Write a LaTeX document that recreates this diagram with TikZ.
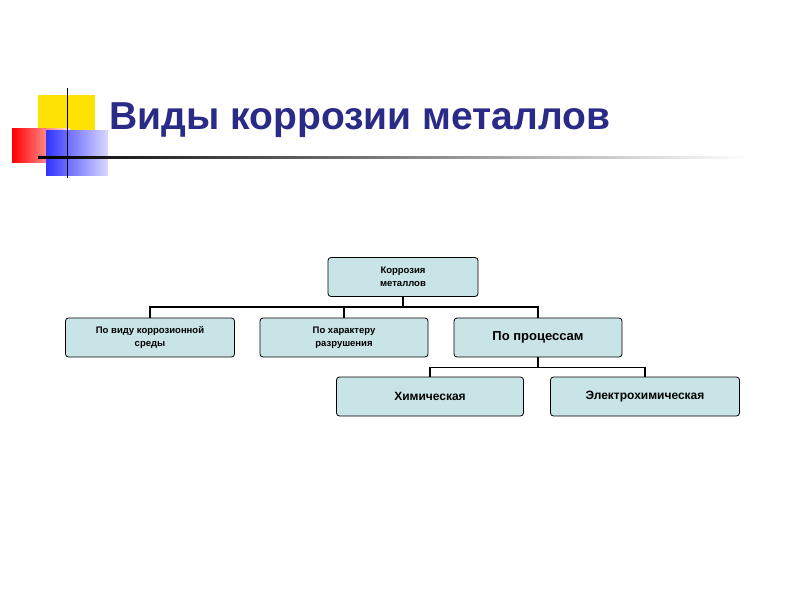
\documentclass[tikz,border=0pt]{standalone}
\usepackage{fontspec}
\setmainfont{Liberation Sans}
\usetikzlibrary{positioning}
\definecolor{boxfill}{RGB}{200,228,230}
\definecolor{titleblue}{RGB}{42,42,135}
\tikzset{
  kind/.style={draw,line width=0.8pt,rounded corners=3pt,fill=boxfill,minimum height=39pt,align=center,font=\bfseries\fontsize{9.5}{13}\selectfont},
  link/.style={line width=1.6pt}
}
\begin{document}
\begin{tikzpicture}[x=1pt,y=-1pt]
\useasboundingbox (0,0) rectangle (800,600);
% decoration
\fill[yellow!85!orange] (38,95) rectangle (95,140);
\shade[left color=red,right color=red!10] (12,128) rectangle (70,162);
\shade[left color=blue!80,right color=blue!15] (46,130) rectangle (108,175);
\draw[thick] (67,88) -- (67,178);
\shade[left color=black,right color=white] (38,156) rectangle (750,158.5);
\node[anchor=west,text=titleblue,font=\bfseries\fontsize{39}{42}\selectfont] (title) at (106,120) {Виды коррозии металлов};
% tree
\node[kind,minimum width=150pt] (root) at (403,277) {Коррозия\\металлов};
\node[kind,minimum width=169pt] (env) at (150,337.5) {По виду коррозионной\\среды};
\node[kind,minimum width=168pt] (dmg) at (344,337.5) {По характеру\\разрушения};
\node[kind,minimum width=168pt,font=\bfseries\fontsize{13}{15}\selectfont] (proc) at (538,337.5) {По процессам};
\node[kind,minimum width=187pt,font=\bfseries\fontsize{12}{14}\selectfont] (chem) at (430,396.5) {Химическая};
\node[kind,minimum width=189pt,font=\bfseries\fontsize{12}{14}\selectfont] (elec) at (645,396.5) {Электрохимическая};
\draw[link] (root.south) -- ++(0,10) coordinate (bus);
\draw[link] (env.north) |- (bus) -| (dmg.north);
\draw[link] (bus) -| (proc.north);
\draw[link] (proc.south) -- ++(0,10) coordinate (bus2);
\draw[link] (chem.north) |- (bus2) -| (elec.north);
\end{tikzpicture}
\end{document}
